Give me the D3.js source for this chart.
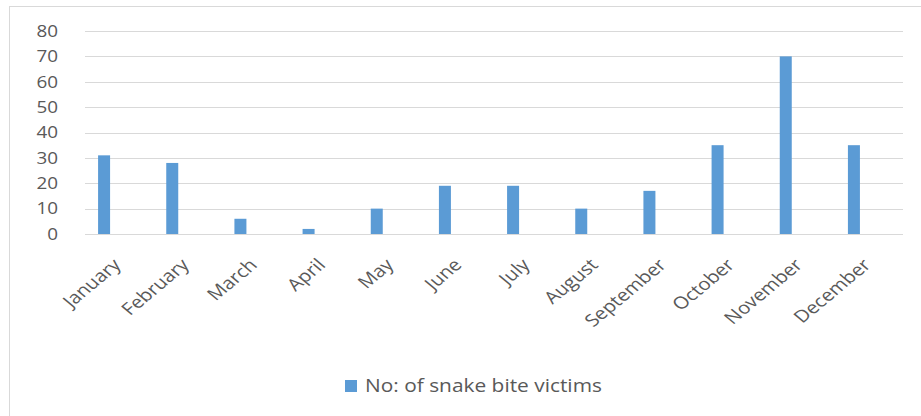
<!DOCTYPE html>
<html>
<head>
<meta charset="utf-8">
<script src="https://cdn.jsdelivr.net/npm/d3@7"></script>
<style>
  body { margin: 0; background: #fff; }
  text { font-family: "Open Sans", sans-serif; fill: #595959; }
</style>
</head>
<body>
<div id="chart"></div>
<script>
// data
var months = ['January', 'February', 'March', 'April', 'May', 'June', 'July', 'August', 'September', 'October', 'November', 'December']
var victims = [31, 28, 6, 2, 10, 19, 19, 10, 17, 35, 70, 35]
var yTicks = [0, 10, 20, 30, 40, 50, 60, 70, 80]
var seriesName = 'No: of snake bite victims'

var width = 921, height = 416
var margin = {top: 31, right: 18, bottom: 182, left: 85}
var stretch = 1.18 // the picture is a bit wider than tall, text looks stretched

var svg = d3.select('#chart').append('svg')
	.attr('width', width)
	.attr('height', height)

// outer frame
svg.append('rect')
	.attr('x', 9.5).attr('y', 6.5)
	.attr('width', width + 10).attr('height', height + 10)
	.attr('fill', 'none').attr('stroke', '#d9d9d9')

var x = d3.scaleBand().domain(months).range([margin.left, width - margin.right])
var y = d3.scaleLinear().domain([0, 80]).range([height - margin.bottom, margin.top])

var barW = 12
var barShift = -15 // bar sits left of the category centre

// gridlines
svg.append('g').selectAll('line').data(yTicks).enter().append('line')
	.attr('x1', margin.left).attr('x2', width - margin.right)
	.attr('y1', function(d) { return Math.round(y(d)) + 0.5 })
	.attr('y2', function(d) { return Math.round(y(d)) + 0.5 })
	.attr('stroke', '#d9d9d9').attr('stroke-width', 1)

// y labels
svg.append('g').selectAll('text').data(yTicks).enter().append('text')
	.attr('transform', function(d) { return 'translate(58,' + y(d) + ') scale(' + stretch + ',1)' })
	.attr('dy', '0.36em')
	.attr('text-anchor', 'end')
	.style('font-size', '16px')
	.text(function(d) { return d })

// bars
svg.append('g').selectAll('rect').data(victims).enter().append('rect')
	.attr('x', function(d, i) { return x(months[i]) + x.bandwidth() / 2 + barShift - barW / 2 })
	.attr('y', function(d) { return y(d) })
	.attr('width', barW)
	.attr('height', function(d) { return y(0) - y(d) })
	.attr('fill', '#5b9bd5')

// month labels, rotated
svg.append('g').selectAll('text').data(months).enter().append('text')
	.attr('transform', function(d) {
		return 'translate(' + (x(d) + x.bandwidth() / 2 + 3) + ',' + 266 + ') scale(1.2,1) rotate(-45)'
	})
	.attr('text-anchor', 'end')
	.style('font-size', '17px')
	.text(function(d) { return d })

// legend
var legend = svg.append('g').attr('transform', 'translate(345,380)')
legend.append('rect').attr('width', 12).attr('height', 12).attr('fill', '#5b9bd5')
legend.append('text').attr('transform', 'translate(20,12) scale(1.16,1)')
	.style('font-size', '18px')
	.text(seriesName)
</script>
</body>
</html>
